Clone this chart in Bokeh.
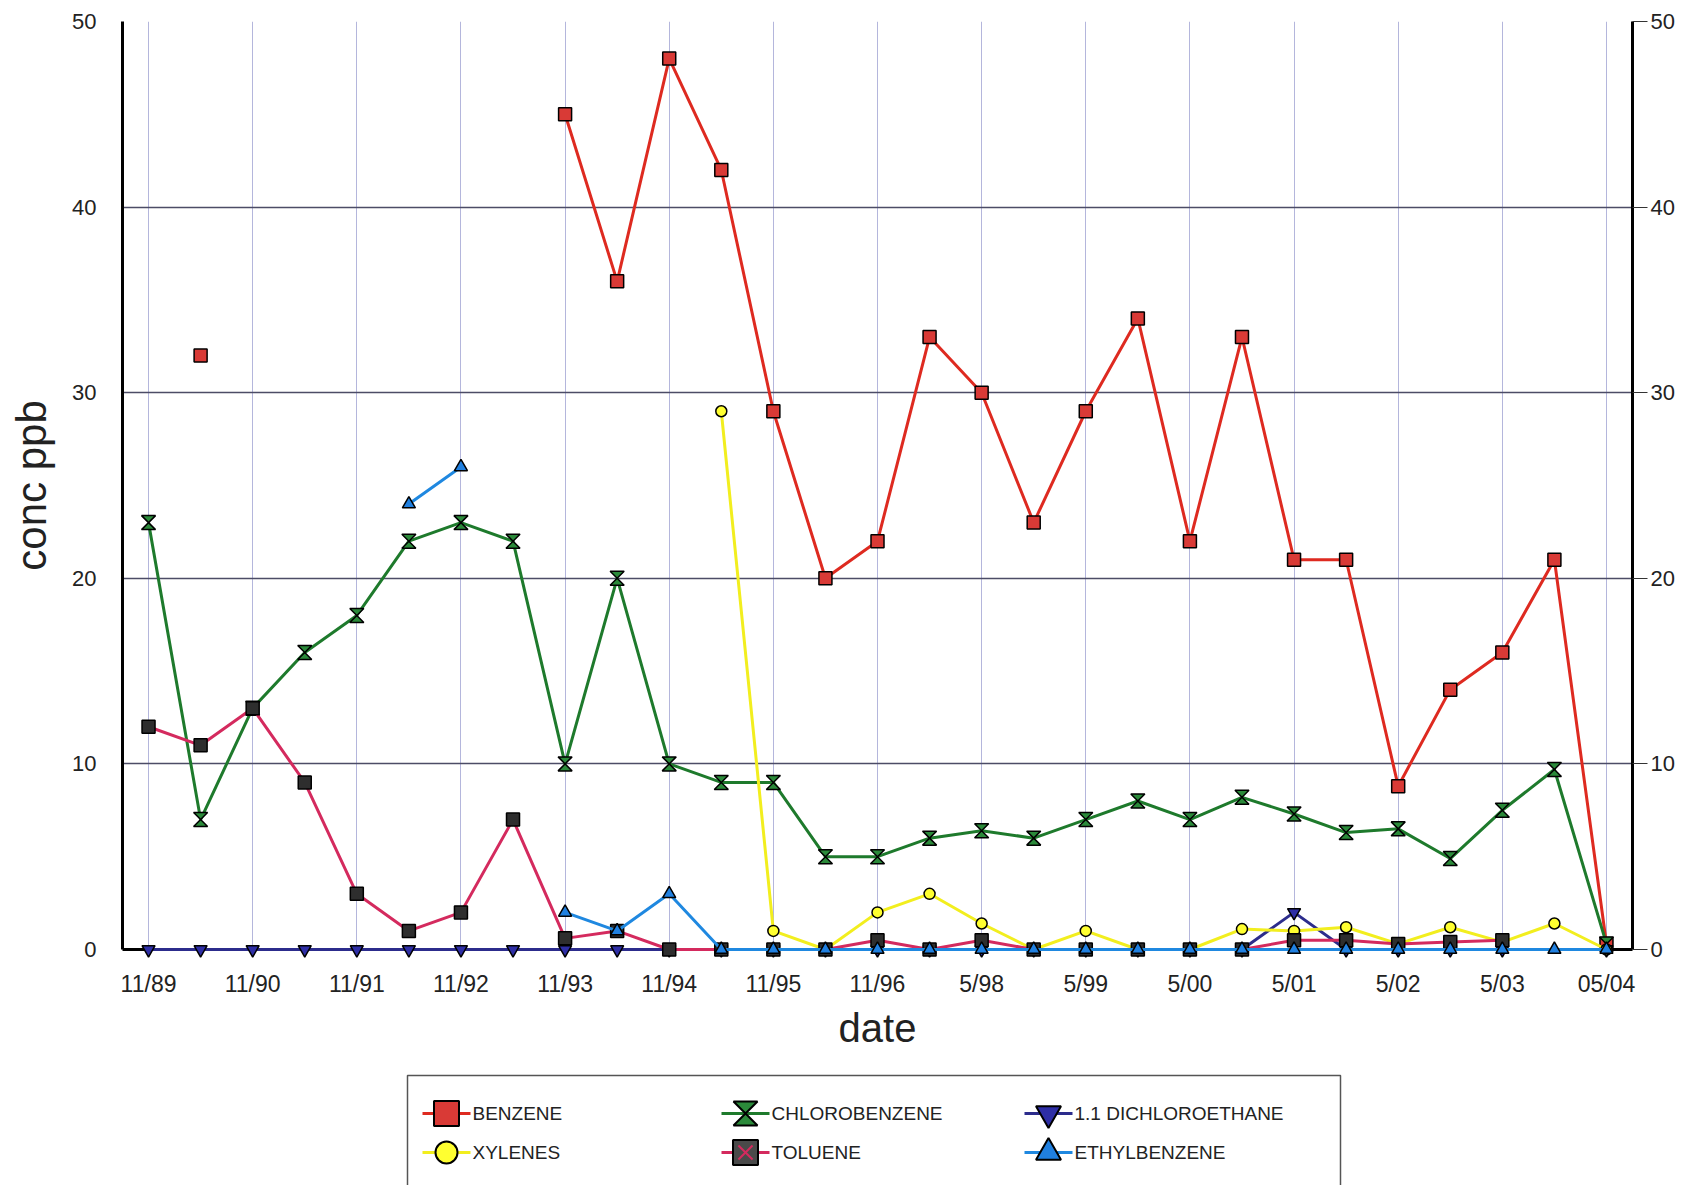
import numpy as np
from bokeh.plotting import figure
from bokeh.models import Range1d, LinearAxis, FixedTicker, ColumnDataSource
from bokeh.layouts import column
from bokeh.embed import file_html
from bokeh.resources import INLINE
from bokeh.core.properties import value

nan = np.nan

# ---------------- data ----------------
tick_labels = ["11/89", "11/90", "11/91", "11/92", "11/93", "11/94", "11/95", "11/96",
               "5/98", "5/99", "5/00", "5/01", "5/02", "5/03", "05/04"]
n_samples = 29
sample_index = list(range(n_samples))
tick_index = sample_index[::2]

benzene = [nan, 32, nan, nan, nan, nan, nan, nan, 45, 36, 48, 42, 29, 20, 22, 33, 30, 23,
           29, 34, 22, 33, 21, 21, 8.8, 14, 16, 21, 0.3]
chlorobenzene = [23, 7, 13, 16, 18, 22, 23, 22, 10, 20, 10, 9, 9, 5, 5, 6, 6.4, 6, 7, 8, 7,
                 8.2, 7.3, 6.3, 6.5, 4.9, 7.5, 9.7, 0.3]
dichloroethane = [0, 0, 0, 0, 0, 0, 0, 0, 0, 0, 0, 0, 0, 0, 0, 0, 0, 0, 0, 0, 0, 0, 2, 0, 0,
                  0, 0, nan, 0]
xylenes = [nan, nan, nan, nan, nan, nan, nan, nan, nan, nan, nan, 29, 1, 0, 2, 3, 1.4, 0, 1,
           0, 0, 1.1, 1.0, 1.2, 0.3, 1.2, 0.4, 1.4, 0]
toluene = [12, 11, 13, 9, 3, 1, 2, 7, 0.6, 1, 0, 0, 0, 0, 0.5, 0, 0.5, 0, 0, 0, 0, 0, 0.5,
           0.5, 0.3, 0.4, 0.5, nan, nan]
ethylbenzene = [nan, nan, nan, nan, nan, 24, 26, nan, 2, 1, 3, 0, 0, 0, 0, 0, 0, 0, 0, 0, 0,
                0, 0, 0, 0, 0, 0, 0, 0]

y_ticks = [0, 10, 20, 30, 40, 50]
y_title = "conc ppb"
x_title = "date"

# ---------------- layout constants ----------------
FONT = "Liberation Sans"
TXT = "#222222"
W = 1690
H_MAIN = 1060
H_TOTAL = 1185
H_LEG = H_TOTAL - H_MAIN
FL, FT, FH = 122, 21, 928
FW = 1510
FR = W - FL - FW

p = figure(width=W, height=H_MAIN, output_backend="svg", toolbar_location=None,
           x_range=Range1d(-0.5, n_samples - 0.5), y_range=Range1d(0, 50),
           min_border_left=FL, min_border_right=FR, min_border_top=FT,
           min_border_bottom=H_MAIN - FT - FH,
           background_fill_color="white", border_fill_color="white")
p.outline_line_color = None

# x axis
xa = p.xaxis[0]
xa.ticker = FixedTicker(ticks=tick_index)
xa.major_label_overrides = {i: lab for i, lab in zip(tick_index, tick_labels)}
xa.axis_line_width = 3
xa.axis_line_color = "black"
xa.major_tick_out = 0
xa.major_tick_in = 0
xa.minor_tick_out = 0
xa.minor_tick_in = 0
xa.major_label_standoff = 21
xa.major_label_text_font = FONT
xa.major_label_text_font_size = "23px"
xa.major_label_text_color = TXT
xa.axis_label = x_title
xa.axis_label_text_font = FONT
xa.axis_label_text_font_size = "40px"
xa.axis_label_text_font_style = "normal"
xa.axis_label_text_color = TXT
xa.axis_label_standoff = 6

# left y axis
ya = p.yaxis[0]
ya.ticker = FixedTicker(ticks=y_ticks)
ya.axis_line_width = 3
ya.axis_line_color = "black"
ya.major_tick_out = 0
ya.major_tick_in = 0
ya.minor_tick_out = 0
ya.minor_tick_in = 0
ya.major_label_standoff = 26
ya.major_label_text_font = FONT
ya.major_label_text_font_size = "22px"
ya.major_label_text_color = TXT
ya.axis_label = y_title
ya.axis_label_text_font = FONT
ya.axis_label_text_font_size = "42px"
ya.axis_label_text_font_style = "normal"
ya.axis_label_text_color = TXT
ya.axis_label_standoff = 14

# right y axis
ra = LinearAxis(ticker=FixedTicker(ticks=y_ticks))
ra.axis_line_width = 3
ra.axis_line_color = "black"
ra.major_tick_out = 15
ra.major_tick_in = 0
ra.major_tick_line_color = "#333333"
ra.major_tick_line_width = 1
ra.minor_tick_out = 0
ra.minor_tick_in = 0
ra.major_label_standoff = 3
ra.major_label_text_font = FONT
ra.major_label_text_font_size = "22px"
ra.major_label_text_color = TXT
p.add_layout(ra, "right")

# grids
p.xgrid.ticker = FixedTicker(ticks=tick_index)
p.xgrid.grid_line_color = "#b4b6dc"
p.xgrid.grid_line_width = 1
p.ygrid.ticker = FixedTicker(ticks=y_ticks[1:])
p.ygrid.grid_line_color = "#4c4c66"
p.ygrid.grid_line_width = 1.3

# ---------------- series ----------------
px_x = FW / float(n_samples)
px_y = FH / 50.0

series = [
    dict(name="BENZENE", vals=benzene, color="#de2a20", marker="square", fill="#d93a36", size=13),
    dict(name="CHLOROBENZENE", vals=chlorobenzene, color="#1e7a2c", marker="hourglass", fill="#2b8a3a", size=14),
    dict(name="1.1 DICHLOROETHANE", vals=dichloroethane, color="#2c2c8c", marker="inverted_triangle", fill="#2e2ea6", size=13),
    dict(name="XYLENES", vals=xylenes, color="#f2ee1e", marker="circle", fill="#ffff30", size=11),
    dict(name="TOLUENE", vals=toluene, color="#d42a5e", marker="square", fill="#2e2e2e", size=13),
    dict(name="ETHYLBENZENE", vals=ethylbenzene, color="#1f88e0", marker="triangle", fill="#2080e0", size=13),
]


def hourglass(xc, yc, hw, hh):
    xs, ys = [], []
    for xi, yi in zip(xc, yc):
        if yi is None or (isinstance(yi, float) and np.isnan(yi)):
            continue
        xs.append([xi - hw, xi + hw, xi - hw, xi + hw])
        ys.append([yi + hh, yi + hh, yi - hh, yi - hh])
    return xs, ys


for s in series:
    src = ColumnDataSource(dict(x=sample_index, y=s["vals"]))
    p.line("x", "y", source=src, line_color=s["color"], line_width=3, level="overlay")
    if s["marker"] == "hourglass":
        hx, hy = hourglass(sample_index, s["vals"], 7.0 / px_x, 7.0 / px_y)
        p.patches(hx, hy, fill_color=s["fill"], line_color="black", line_width=1.5, level="overlay")
    else:
        p.scatter("x", "y", source=src, marker=s["marker"], size=s["size"],
                  fill_color=s["fill"], line_color="black", line_width=1.5, level="overlay")

# ---------------- legend (separate strip, coordinates = page pixels) ----------------
lg = figure(width=W, height=H_LEG, output_backend="svg", toolbar_location=None,
            x_range=Range1d(FL, FL + FW), y_range=Range1d(H_TOTAL, H_MAIN),
            x_axis_location=None, y_axis_location=None,
            min_border=0, min_border_left=FL, min_border_right=FR,
            min_border_top=0, min_border_bottom=0,
            background_fill_color="white", border_fill_color="white")
lg.outline_line_color = None
lg.xgrid.visible = False
lg.ygrid.visible = False

box_left, box_right, box_top = 407, 1340, 1075
lg.quad(left=[box_left], right=[box_right], top=[box_top], bottom=[H_TOTAL + 30],
        fill_color="white", line_color="#555555", line_width=1.5)

legend_order = [0, 1, 2, 3, 4, 5]
col_x = [422, 721, 1024]
row_y = [1113, 1152]
seg_len = 48
for k, si in enumerate(legend_order):
    s = series[si]
    cx = col_x[k % 3]
    cy = row_y[k // 3]
    lg.segment(x0=[cx], y0=[cy], x1=[cx + seg_len], y1=[cy], line_color=s["color"], line_width=3)
    mx = cx + seg_len / 2.0
    if s["marker"] == "hourglass":
        hx, hy = hourglass([mx], [cy], 12, 12)
        lg.patches(hx, hy, fill_color=s["fill"], line_color="black", line_width=2)
    else:
        big = 22 if s["marker"] == "circle" else 25
        lg.scatter([mx], [cy], marker=s["marker"], size=big,
                   fill_color=s["fill"] if s["name"] != "TOLUENE" else "#4a4a4a",
                   line_color="black", line_width=2)
        if s["name"] == "TOLUENE":
            lg.scatter([mx], [cy], marker="x", size=20, line_color=s["color"], line_width=2)
    lg.text(x=[cx + seg_len + 2], y=[cy], text=[s["name"]], text_font=value(FONT),
            text_font_size="19px", text_baseline="middle", text_align="left", text_color=TXT)

layout = column(p, lg, spacing=0)
open("out.html", "w").write(file_html(layout, INLINE))
